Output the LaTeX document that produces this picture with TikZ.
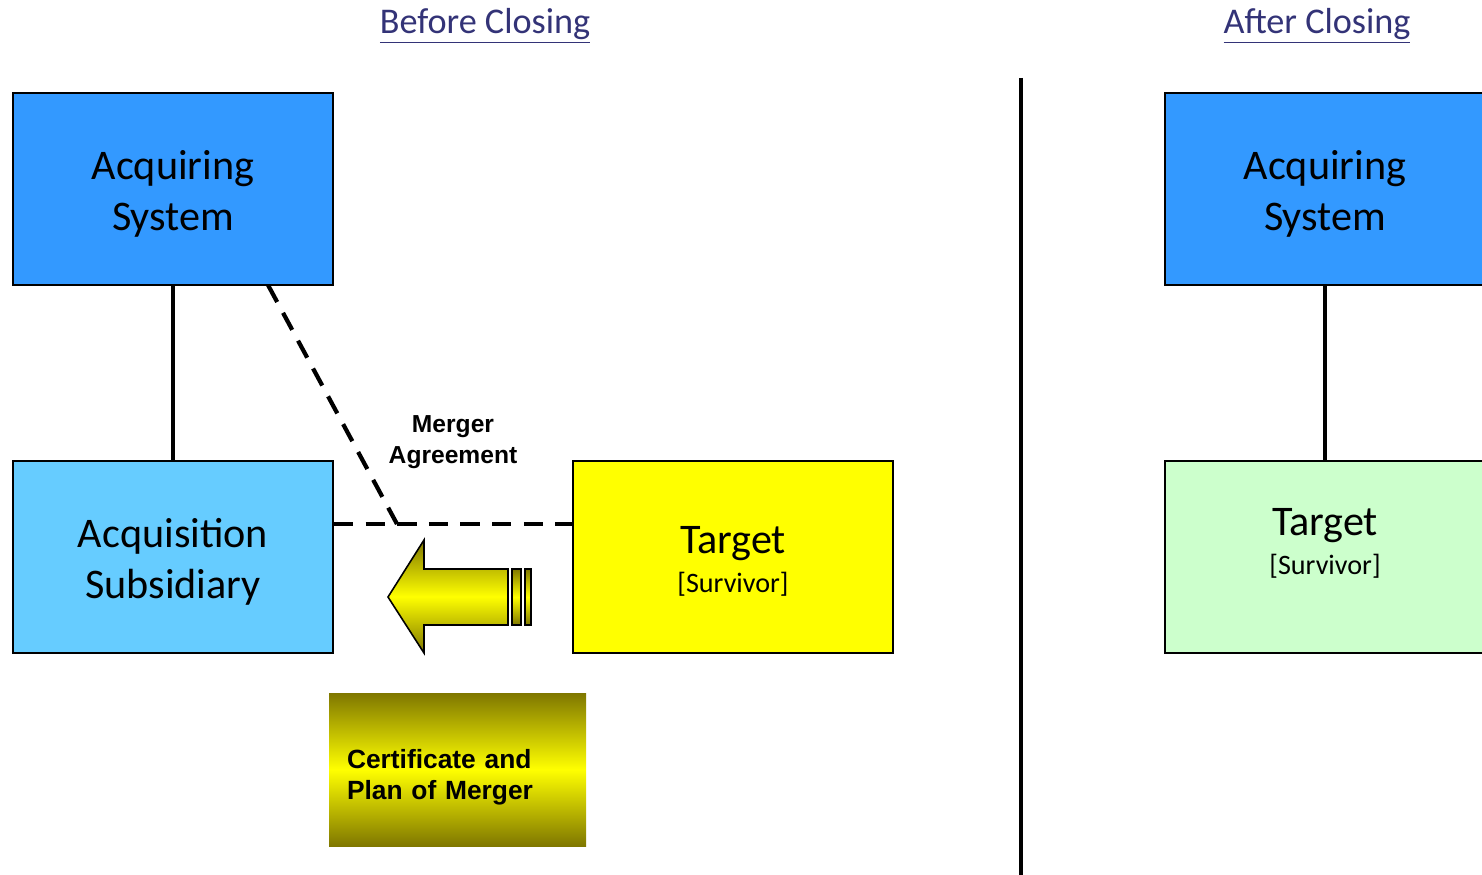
\documentclass[tikz,border=0pt]{standalone}
\usepackage{fontspec}
\setmainfont{Carlito}
\newfontfamily\arialfont{Liberation Sans}
\usepackage{tikz}
\usetikzlibrary{positioning}
\definecolor{AcqBlue}{HTML}{3399FF}
\definecolor{SubBlue}{HTML}{66CCFF}
\definecolor{TgtYellow}{HTML}{FFFF00}
\definecolor{SurvGreen}{HTML}{CCFFCC}
\definecolor{TitleBlue}{HTML}{333377}
\definecolor{DarkOlive}{HTML}{7F7700}
\tikzstyle{entity} = [rectangle, minimum width=6.4cm, minimum height=3.84cm, inner sep=0pt, text centered, align=center, draw=black, line width=1.1pt, font=\fontsize{24}{29}\selectfont, text height=51.8pt, text depth=5pt]
\tikzstyle{heading} = [text=TitleBlue, font=\fontsize{20.6}{24}\selectfont]
\tikzstyle{label} = [align=center, font=\arialfont\bfseries\fontsize{14}{18}\selectfont]
\tikzstyle{link} = [line width=2.2pt]
\tikzstyle{agree} = [line width=2.4pt, dash pattern=on 11pt off 7pt]
\tikzstyle{gold} = [top color=DarkOlive, bottom color=DarkOlive, middle color=TgtYellow]
\newcommand{\surv}{\fontsize{16}{19}\selectfont [Survivor]}

\begin{document}
\begin{tikzpicture}

\clip (0,0) rectangle (29.64,-17.5);
\useasboundingbox (0,0) rectangle (29.64,-17.5);

% before closing
\node (before) [heading] at (9.7,-0.52) {\underline{Before Closing}};

\node (acq) [entity, fill=AcqBlue] at (3.46,-3.78) {Acquiring\\System};

\node (sub) [entity, fill=SubBlue] at (3.46,-11.14) {Acquisition\\Subsidiary};

\node (tgt) [entity, fill=TgtYellow, text height=44.2pt, text depth=4pt] at (14.66,-11.14) {Target\\[-6.8pt]\surv};

\node (merger) [label] at (9.06,-8.84) {Merger\\Agreement};

\node (cert) [gold, minimum width=5.14cm, minimum height=3.06cm, text width=4.42cm, inner xsep=0.36cm, inner ysep=0pt, align=left, text height=19.5pt, text depth=21.2pt, font=\arialfont\bfseries\fontsize{15}{18}\selectfont] at (9.15,-15.39) {Certificate and\\Plan of Merger};

\coordinate (acqfoot) at (5.36,-5.7);
\coordinate (ma) at (7.94,-10.48);

\draw [link] (acq) -- (sub);
\draw [agree] (acqfoot) -- (ma);
\draw [agree] (sub.east |- ma) -- (tgt.west |- ma);

% merger arrow
\shade [gold, draw=black, line width=0.9pt] (7.76,-11.94) -- (8.48,-10.8) -- (8.48,-11.38) -- (10.16,-11.38) -- (10.16,-12.5) -- (8.48,-12.5) -- (8.48,-13.06) -- cycle;
\shade [gold, draw=black, line width=0.9pt] (10.24,-11.38) rectangle (10.42,-12.5);
\shade [gold, draw=black, line width=0.9pt] (10.5,-11.38) rectangle (10.62,-12.5);

% separator
\coordinate (septop) at (20.42,-1.56);
\coordinate (sepbot) at (20.42,-17.6);
\draw [link] (septop) -- (sepbot);

% after closing
\node (after) [heading] at (26.34,-0.52) {\underline{After Closing}};

\node (acq2) [entity, fill=AcqBlue] at (26.5,-3.78) {Acquiring\\System};

\node (tgt2) [entity, fill=SurvGreen, text height=23.8pt, text depth=4pt] at (26.5,-11.14) {Target\\[-6.8pt]\surv};

\draw [link] (acq2) -- (tgt2);

\end{tikzpicture}
\end{document}
